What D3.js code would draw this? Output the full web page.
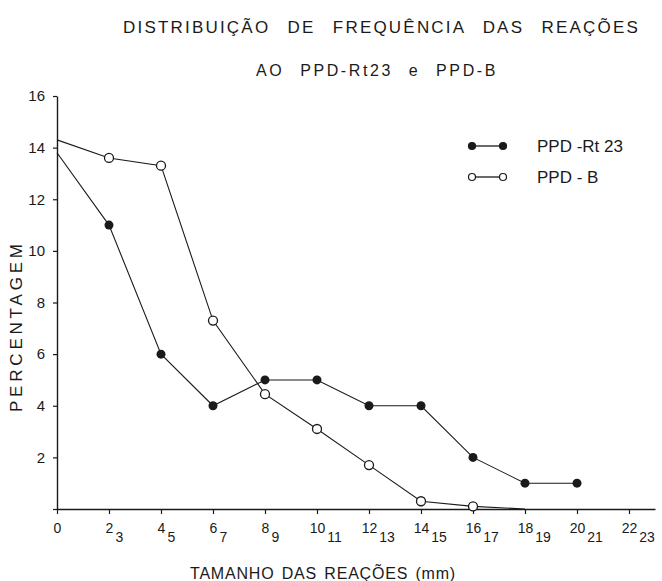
<!DOCTYPE html>
<html>
<head>
<meta charset="utf-8">
<script src="https://cdn.jsdelivr.net/npm/d3@7"></script>
<style>
  body { margin: 0; background: #fff; }
  text { font-family: "Liberation Sans", Arial, sans-serif; fill: #1a1a1a; }
</style>
</head>
<body>
<svg width="662" height="581"></svg>
<script>
// data
var rtSizes = [0, 2, 4, 6, 8, 10, 12, 14, 16, 18, 20];
var rtValues = [13.8, 11, 6, 4, 5, 5, 4, 4, 2, 1, 1];
var bSizes = [0, 2, 4, 6, 8, 10, 12, 14, 16, 18];
var bValues = [14.3, 13.6, 13.3, 7.3, 4.45, 3.1, 1.7, 0.3, 0.1, 0];
var xTickMain = [0, 2, 4, 6, 8, 10, 12, 14, 16, 18, 20, 22];
var xTickSub = ["", "3", "5", "7", "9", "11", "13", "15", "17", "19", "21", "23"];
var yTicks = [0, 2, 4, 6, 8, 10, 12, 14, 16];

var svg = d3.select("svg");

var xScale = d3.scaleLinear().domain([0, 23]).range([57, 655]);
var yScale = d3.scaleLinear().domain([0, 16]).range([509, 96]);

var rt = rtSizes.map(function (s, i) { return { x: s, y: rtValues[i] }; });
var pb = bSizes.map(function (s, i) { return { x: s, y: bValues[i] }; });

// spaced-out typewriter style text: fixed letter spacing, word gaps fill the rest
function spacedText(str, x, y, size, width, letterSp) {
  var t = svg.append("text")
    .text(str)
    .attr("x", x).attr("y", y)
    .attr("font-size", size)
    .attr("letter-spacing", letterSp);
  var natural = t.node().getComputedTextLength();
  var gaps = str.split(" ").length - 1;
  if (gaps > 0) t.attr("word-spacing", Math.max(0, (width - natural) / gaps));
  return t;
}

spacedText("DISTRIBUIÇÃO DE FREQUÊNCIA DAS REAÇÕES", 123, 33, 17, 517, 2.2);
spacedText("AO PPD-Rt23 e PPD-B", 256, 76, 16, 242, 2.6);

// y axis
var yAxis = d3.axisLeft(yScale)
  .tickValues(yTicks)
  .tickSize(4).tickSizeOuter(0).tickPadding(8)
  .tickFormat(function (d) { return d === 0 ? "" : d; });

var yAxisGroup = svg.append("g")
  .attr("transform", "translate(" + xScale(0) + ",0)")
  .call(yAxis);
yAxisGroup.select(".domain").attr("stroke", "#1a1a1a").attr("stroke-width", 1.4);
yAxisGroup.selectAll(".tick line").attr("stroke", "#1a1a1a").attr("stroke-width", 1.2);
yAxisGroup.selectAll(".tick text").attr("font-size", 15).attr("font-family", null);

// x axis
var xAxis = d3.axisBottom(xScale)
  .tickValues(xTickMain)
  .tickSize(5).tickSizeOuter(0)
  .tickFormat("");

var xAxisGroup = svg.append("g")
  .attr("transform", "translate(0," + yScale(0) + ")")
  .call(xAxis);
xAxisGroup.select(".domain").attr("stroke", "#1a1a1a").attr("stroke-width", 1.6);
xAxisGroup.selectAll(".tick line").attr("stroke", "#1a1a1a").attr("stroke-width", 1.2);

xAxisGroup.selectAll(".tick text").each(function (d, i) {
  var t = d3.select(this)
    .attr("font-size", 14).attr("font-family", null)
    .attr("y", 24).attr("dy", null)
    .attr("text-anchor", "start");
  var main = String(d);
  var w = main.length * 7.8;
  t.attr("x", -w / 2);
  t.append("tspan").text(main);
  if (xTickSub[i]) {
    t.append("tspan").text(xTickSub[i]).attr("dx", 2).attr("dy", 9);
  }
});

// axis titles
spacedText("TAMANHO DAS REAÇÕES (mm)", 190, 579, 16, 266, 0.8);

svg.append("text")
  .text("PERCENTAGEM")
  .attr("transform", "translate(22,412) rotate(-90)")
  .attr("font-size", 17)
  .attr("textLength", 168).attr("lengthAdjust", "spacing");

// lines
var line = d3.line()
  .x(function (d) { return xScale(d.x); })
  .y(function (d) { return yScale(d.y); });

svg.append("path").datum(rt)
  .attr("d", line).attr("fill", "none")
  .attr("stroke", "#1a1a1a").attr("stroke-width", 1.1);

svg.append("path").datum(pb)
  .attr("d", line).attr("fill", "none")
  .attr("stroke", "#1a1a1a").attr("stroke-width", 1.1);

// markers (none on the axis itself)
function onPlot(d) { return d.x > 0 && d.y > 0; }

svg.append("g").selectAll("circle")
  .data(pb.filter(onPlot))
  .enter().append("circle")
  .attr("cx", function (d) { return xScale(d.x); })
  .attr("cy", function (d) { return yScale(d.y); })
  .attr("r", 4.5)
  .attr("fill", "#fff").attr("stroke", "#1a1a1a").attr("stroke-width", 1.3);

svg.append("g").selectAll("circle")
  .data(rt.filter(onPlot))
  .enter().append("circle")
  .attr("cx", function (d) { return xScale(d.x); })
  .attr("cy", function (d) { return yScale(d.y); })
  .attr("r", 4.5)
  .attr("fill", "#1a1a1a");

// legend
var legend = svg.append("g");
var legendItems = [
  { label: "PPD -Rt 23", y: 146, fill: "#1a1a1a" },
  { label: "PPD - B", y: 177, fill: "#fff" }
];
legendItems.forEach(function (item) {
  legend.append("line")
    .attr("x1", 475).attr("x2", 500)
    .attr("y1", item.y).attr("y2", item.y)
    .attr("stroke", "#1a1a1a").attr("stroke-width", 1.3);
  [472, 503].forEach(function (cx) {
    legend.append("circle")
      .attr("cx", cx).attr("cy", item.y).attr("r", 3.5)
      .attr("fill", item.fill)
      .attr("stroke", "#1a1a1a").attr("stroke-width", 1.2);
  });
  legend.append("text")
    .text(item.label)
    .attr("x", 537).attr("y", item.y + 6)
    .attr("font-size", 17);
});
</script>
</body>
</html>
